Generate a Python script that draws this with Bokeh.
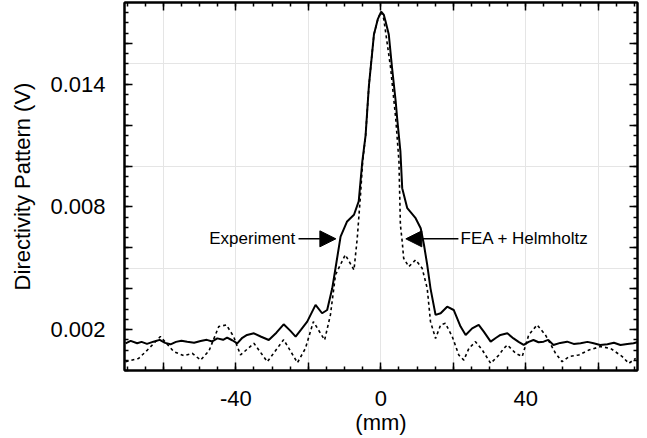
from bokeh.plotting import figure
from bokeh.models import (Range1d, LinearAxis, FixedTicker, CustomJSTickFormatter,
                          Arrow, NormalHead, Label)
from bokeh.embed import file_html
from bokeh.resources import INLINE

# ---- data ----
exp_x = [-70.4, -69.0, -67.2, -66.0, -64.5, -62.7, -61.0, -59.5, -58.0, -56.5, -55.0, -53.4,
         -51.5, -49.7, -48.0, -46.5, -45.1, -43.5, -42.4, -41.0, -39.6, -38.2, -36.9, -35.0,
         -33.0, -30.9, -28.8, -26.8, -25.0, -23.5, -22.0, -20.3, -18.0, -16.2, -14.8, -13.4,
         -12.2, -11.1, -9.3, -7.4, -6.1, -5.1, -4.2, -3.3, -1.9, -0.8, 0.1, 0.8, 1.3, 2.2,
         3.1, 4.1, 4.5, 5.4, 5.9, 7.3, 9.6, 11.0, 11.9, 12.8, 13.7, 15.1, 16.5, 18.3, 20.1,
         22.0, 23.4, 25.2, 27.0, 28.4, 30.3, 31.8, 33.0, 34.9, 36.6, 38.0, 39.4, 40.8, 42.1,
         43.5, 44.9, 46.2, 47.6, 49.5, 51.4, 53.2, 55.1, 57.0, 58.7, 60.5, 62.5, 64.3, 66.1,
         68.0, 69.7, 70.7]
exp_y = [0.00133, 0.00145, 0.00133, 0.00140, 0.00130, 0.00141, 0.00150, 0.00135, 0.00128,
         0.00140, 0.00146, 0.00141, 0.00136, 0.00144, 0.00150, 0.00142, 0.00157, 0.00150,
         0.00161, 0.00148, 0.00133, 0.00160, 0.00174, 0.00182, 0.00165, 0.00149, 0.00185,
         0.00226, 0.00195, 0.00166, 0.00200, 0.00239, 0.00321, 0.00280, 0.00296, 0.00402,
         0.00533, 0.00655, 0.00729, 0.00762, 0.00827, 0.01023, 0.01150, 0.01390, 0.01643,
         0.01720, 0.01755, 0.01741, 0.01708, 0.01643, 0.01480, 0.01317, 0.01235, 0.01072,
         0.00892, 0.00794, 0.00745, 0.00696, 0.00615, 0.00517, 0.00402, 0.00272, 0.00280,
         0.00312, 0.00296, 0.00215, 0.00174, 0.00206, 0.00223, 0.00190, 0.00141, 0.00160,
         0.00174, 0.00182, 0.00157, 0.00140, 0.00125, 0.00140, 0.00149, 0.00138, 0.00141,
         0.00150, 0.00125, 0.00135, 0.00141, 0.00130, 0.00133, 0.00140, 0.00133, 0.00125,
         0.00128, 0.00136, 0.00125, 0.00130, 0.00133, 0.00138]

fea_x = [-70.4, -66.8, -64.4, -60.8, -57.1, -54.3, -52.0, -49.7, -47.4, -44.7, -42.6, -40.6,
         -38.7, -35.0, -31.3, -26.8, -23.0, -20.8, -18.6, -15.5, -13.9, -12.5, -9.8, -7.4,
         -6.5, -5.6, -5.0, -4.2, -3.3, -1.9, -0.8, 0.1, 0.8, 1.3, 2.7, 4.1, 5.0, 5.4, 5.9,
         6.3, 7.7, 9.6, 11.4, 12.8, 13.7, 15.1, 16.5, 17.8, 19.7, 21.5, 22.9, 24.3, 26.1,
         28.0, 30.3, 32.6, 33.9, 34.9, 37.2, 39.0, 40.8, 43.1, 45.4, 48.2, 50.0, 51.9, 54.6,
         57.4, 60.6, 63.4, 66.6, 68.4, 70.3]
fea_y = [0.00043, 0.00059, 0.00100, 0.00166, 0.00092, 0.00072, 0.00084, 0.00051, 0.00096,
         0.00215, 0.00223, 0.00166, 0.00076, 0.00133, 0.00043, 0.00151, 0.00038, 0.00108,
         0.00239, 0.00149, 0.00272, 0.00468, 0.00566, 0.00492, 0.00647, 0.00860, 0.01023,
         0.01150, 0.01390, 0.01643, 0.01720, 0.01755, 0.01720, 0.01659, 0.01480, 0.01235,
         0.01023, 0.00712, 0.00631, 0.00549, 0.00508, 0.00541, 0.00500, 0.00402, 0.00239,
         0.00157, 0.00223, 0.00231, 0.00166, 0.00076, 0.00051, 0.00108, 0.00141, 0.00100,
         0.00035, 0.00076, 0.00108, 0.00125, 0.00084, 0.00068, 0.00174, 0.00223, 0.00174,
         0.00084, 0.00043, 0.00068, 0.00076, 0.00100, 0.00117, 0.00108, 0.00068, 0.00035,
         0.00059]

x_major = [-60, -40, -20, 0, 20, 40, 60]
x_minor = list(range(-70, 75, 5))
y_major = [0.002, 0.004, 0.006, 0.008, 0.010, 0.012, 0.014, 0.016]
y_minor = [i * 0.0005 for i in range(0, 37)]

FONT = "Liberation Sans"

p = figure(width=647, height=438, output_backend="svg", toolbar_location=None,
           x_range=Range1d(-70.7, 70.8), y_range=Range1d(0, 0.018),
           min_border_left=124, min_border_right=10, min_border_top=2, min_border_bottom=68,
           x_axis_location=None, y_axis_location=None)
p.outline_line_color = "black"
p.outline_line_width = 2

xfmt = CustomJSTickFormatter(code="return (Math.abs(Math.round(tick)) % 40 == 0) ? String(Math.round(tick)) : '';")
yfmt = CustomJSTickFormatter(code="const v = Math.round(tick*1000); return (v==2||v==8||v==14) ? tick.toFixed(3) : '';")
blank = CustomJSTickFormatter(code="return '';")


def style(ax, labels=True):
    ax.axis_line_color = "black"
    ax.axis_line_width = 2
    ax.major_tick_in = 8
    ax.major_tick_out = 0
    ax.minor_tick_in = 4
    ax.minor_tick_out = 0
    ax.major_tick_line_width = 1.5
    ax.minor_tick_line_width = 1.5
    ax.major_tick_line_color = "black"
    ax.minor_tick_line_color = "black"
    if labels:
        ax.major_label_text_font = FONT
        ax.major_label_text_font_size = "22px"
        ax.major_label_text_color = "black"
        ax.axis_label_text_font = FONT
        ax.axis_label_text_font_size = "22px"
        ax.axis_label_text_font_style = "normal"
        ax.axis_label_text_color = "black"
    else:
        ax.major_label_text_font_size = "10px"
        ax.major_label_standoff = 0


xb = LinearAxis(ticker=FixedTicker(ticks=x_major, minor_ticks=x_minor), formatter=xfmt,
                axis_label="(mm)")
style(xb)
xb.major_label_standoff = 20
xb.axis_label_standoff = 1
p.add_layout(xb, "below")

yl = LinearAxis(ticker=FixedTicker(ticks=y_major, minor_ticks=y_minor), formatter=yfmt,
                axis_label="Directivity Pattern (V)")
style(yl)
yl.major_label_standoff = 19
yl.axis_label_standoff = 12
p.add_layout(yl, "left")

xt = LinearAxis(ticker=FixedTicker(ticks=x_major, minor_ticks=x_minor), formatter=blank)
style(xt, labels=False)
p.add_layout(xt, "above")

yr = LinearAxis(ticker=FixedTicker(ticks=y_major, minor_ticks=y_minor), formatter=blank)
style(yr, labels=False)
p.add_layout(yr, "right")

p.line(fea_x, fea_y, line_color="black", line_width=1.6, line_dash="3 3")
p.line(exp_x, exp_y, line_color="black", line_width=2)

p.add_layout(Arrow(end=NormalHead(size=16, fill_color="black", line_color="black"),
                   x_start=-22.7, y_start=0.00644, x_end=-12.4, y_end=0.00644,
                   line_color="black", line_width=1.5))
p.add_layout(Arrow(end=NormalHead(size=16, fill_color="black", line_color="black"),
                   x_start=21.4, y_start=0.00644, x_end=6.9, y_end=0.00644,
                   line_color="black", line_width=1.5))
p.add_layout(Label(x=-23.6, y=0.00644, text="Experiment", text_align="right",
                   text_baseline="middle", text_font=FONT, text_font_size="17px",
                   text_color="black"))
p.add_layout(Label(x=22.0, y=0.00644, text="FEA + Helmholtz", text_align="left",
                   text_baseline="middle", text_font=FONT, text_font_size="17px",
                   text_color="black"))

open("out.html", "w").write(file_html(p, INLINE))
